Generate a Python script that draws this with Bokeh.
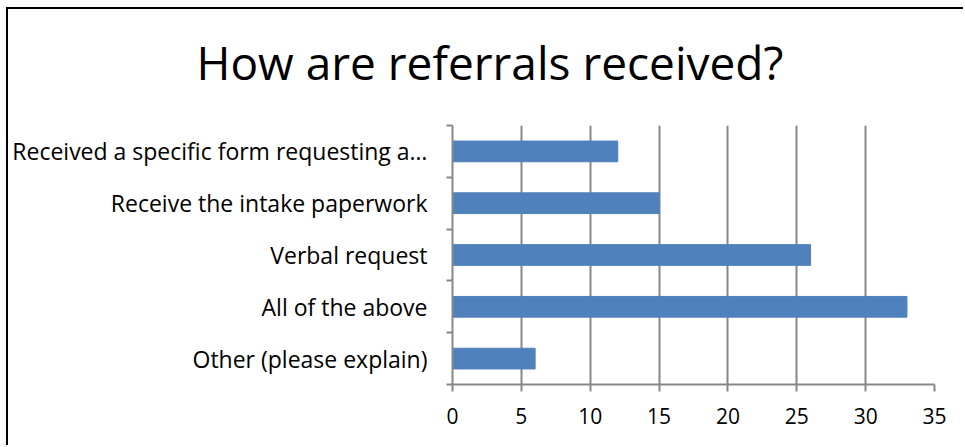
from bokeh.plotting import figure
from bokeh.models import Range1d, FixedTicker, ColumnDataSource, Title
from bokeh.embed import file_html
from bokeh.resources import INLINE

title_text = "How are referrals received?"
categories = ["Received a specific form requesting a…", "Receive the intake paperwork",
              "Verbal request", "All of the above", "Other (please explain)"]
values = [12, 15, 26, 33, 6]
x_ticks = [0, 5, 10, 15, 20, 25, 30, 35]

n = len(categories)
ypos = [n - i - 0.5 for i in range(n)]
src = ColumnDataSource(dict(y=ypos, v=values, name=categories))

FONT = "Open Sans"
GRAY = "#878787"

p = figure(width=957, height=438, output_backend="svg", toolbar_location=None,
           x_range=Range1d(0, 35), y_range=Range1d(0, n),
           min_border_left=444, min_border_right=31, min_border_bottom=63, min_border_top=116,
           title=title_text)
p.styles = {"border-left": "2px solid black", "border-top": "2px solid black",
            "margin-left": "6px", "margin-top": "7px"}
p.outline_line_color = None
p.background_fill_color = "white"
p.border_fill_color = "white"

# thin spacer between title and plot area
p.add_layout(Title(text=" ", text_font_size="1px", standoff=25), "above")

p.title.text_font = FONT
p.title.text_font_size = "46px"
p.title.text_font_style = "normal"
p.title.text_color = "black"
p.title.align = "left"
p.title.offset = -256
p.title.standoff = 10

p.hbar(y="y", height=0.4, left=0, right="v", source=src, fill_color="#4F81BD", line_color="#4F81BD")

p.xaxis.ticker = FixedTicker(ticks=x_ticks)
p.xaxis.axis_line_color = GRAY
p.xaxis.axis_line_width = 2
p.xaxis.major_tick_line_color = GRAY
p.xaxis.major_tick_line_width = 2
p.xaxis.major_tick_out = 7
p.xaxis.major_tick_in = 0
p.xaxis.minor_tick_line_color = None
p.xaxis.major_label_text_font = FONT
p.xaxis.major_label_text_font_size = "21px"
p.xaxis.major_label_text_color = "black"
p.xaxis.major_label_standoff = 16

p.yaxis.ticker = FixedTicker(ticks=ypos, minor_ticks=list(range(n + 1)))
p.yaxis.major_label_overrides = {y: c for y, c in zip(ypos, categories)}
p.yaxis.axis_line_color = GRAY
p.yaxis.axis_line_width = 2
p.yaxis.major_tick_line_color = None
p.yaxis.major_tick_out = 0
p.yaxis.major_tick_in = 0
p.yaxis.minor_tick_line_color = GRAY
p.yaxis.minor_tick_line_width = 2
p.yaxis.minor_tick_out = 6
p.yaxis.minor_tick_in = 0
p.yaxis.major_label_text_font = FONT
p.yaxis.major_label_text_font_size = "23px"
p.yaxis.major_label_text_color = "black"
p.yaxis.major_label_standoff = 19

p.xgrid.grid_line_color = GRAY
p.xgrid.grid_line_width = 2
p.ygrid.grid_line_color = None

open("out.html", "w").write(file_html(p, INLINE))
